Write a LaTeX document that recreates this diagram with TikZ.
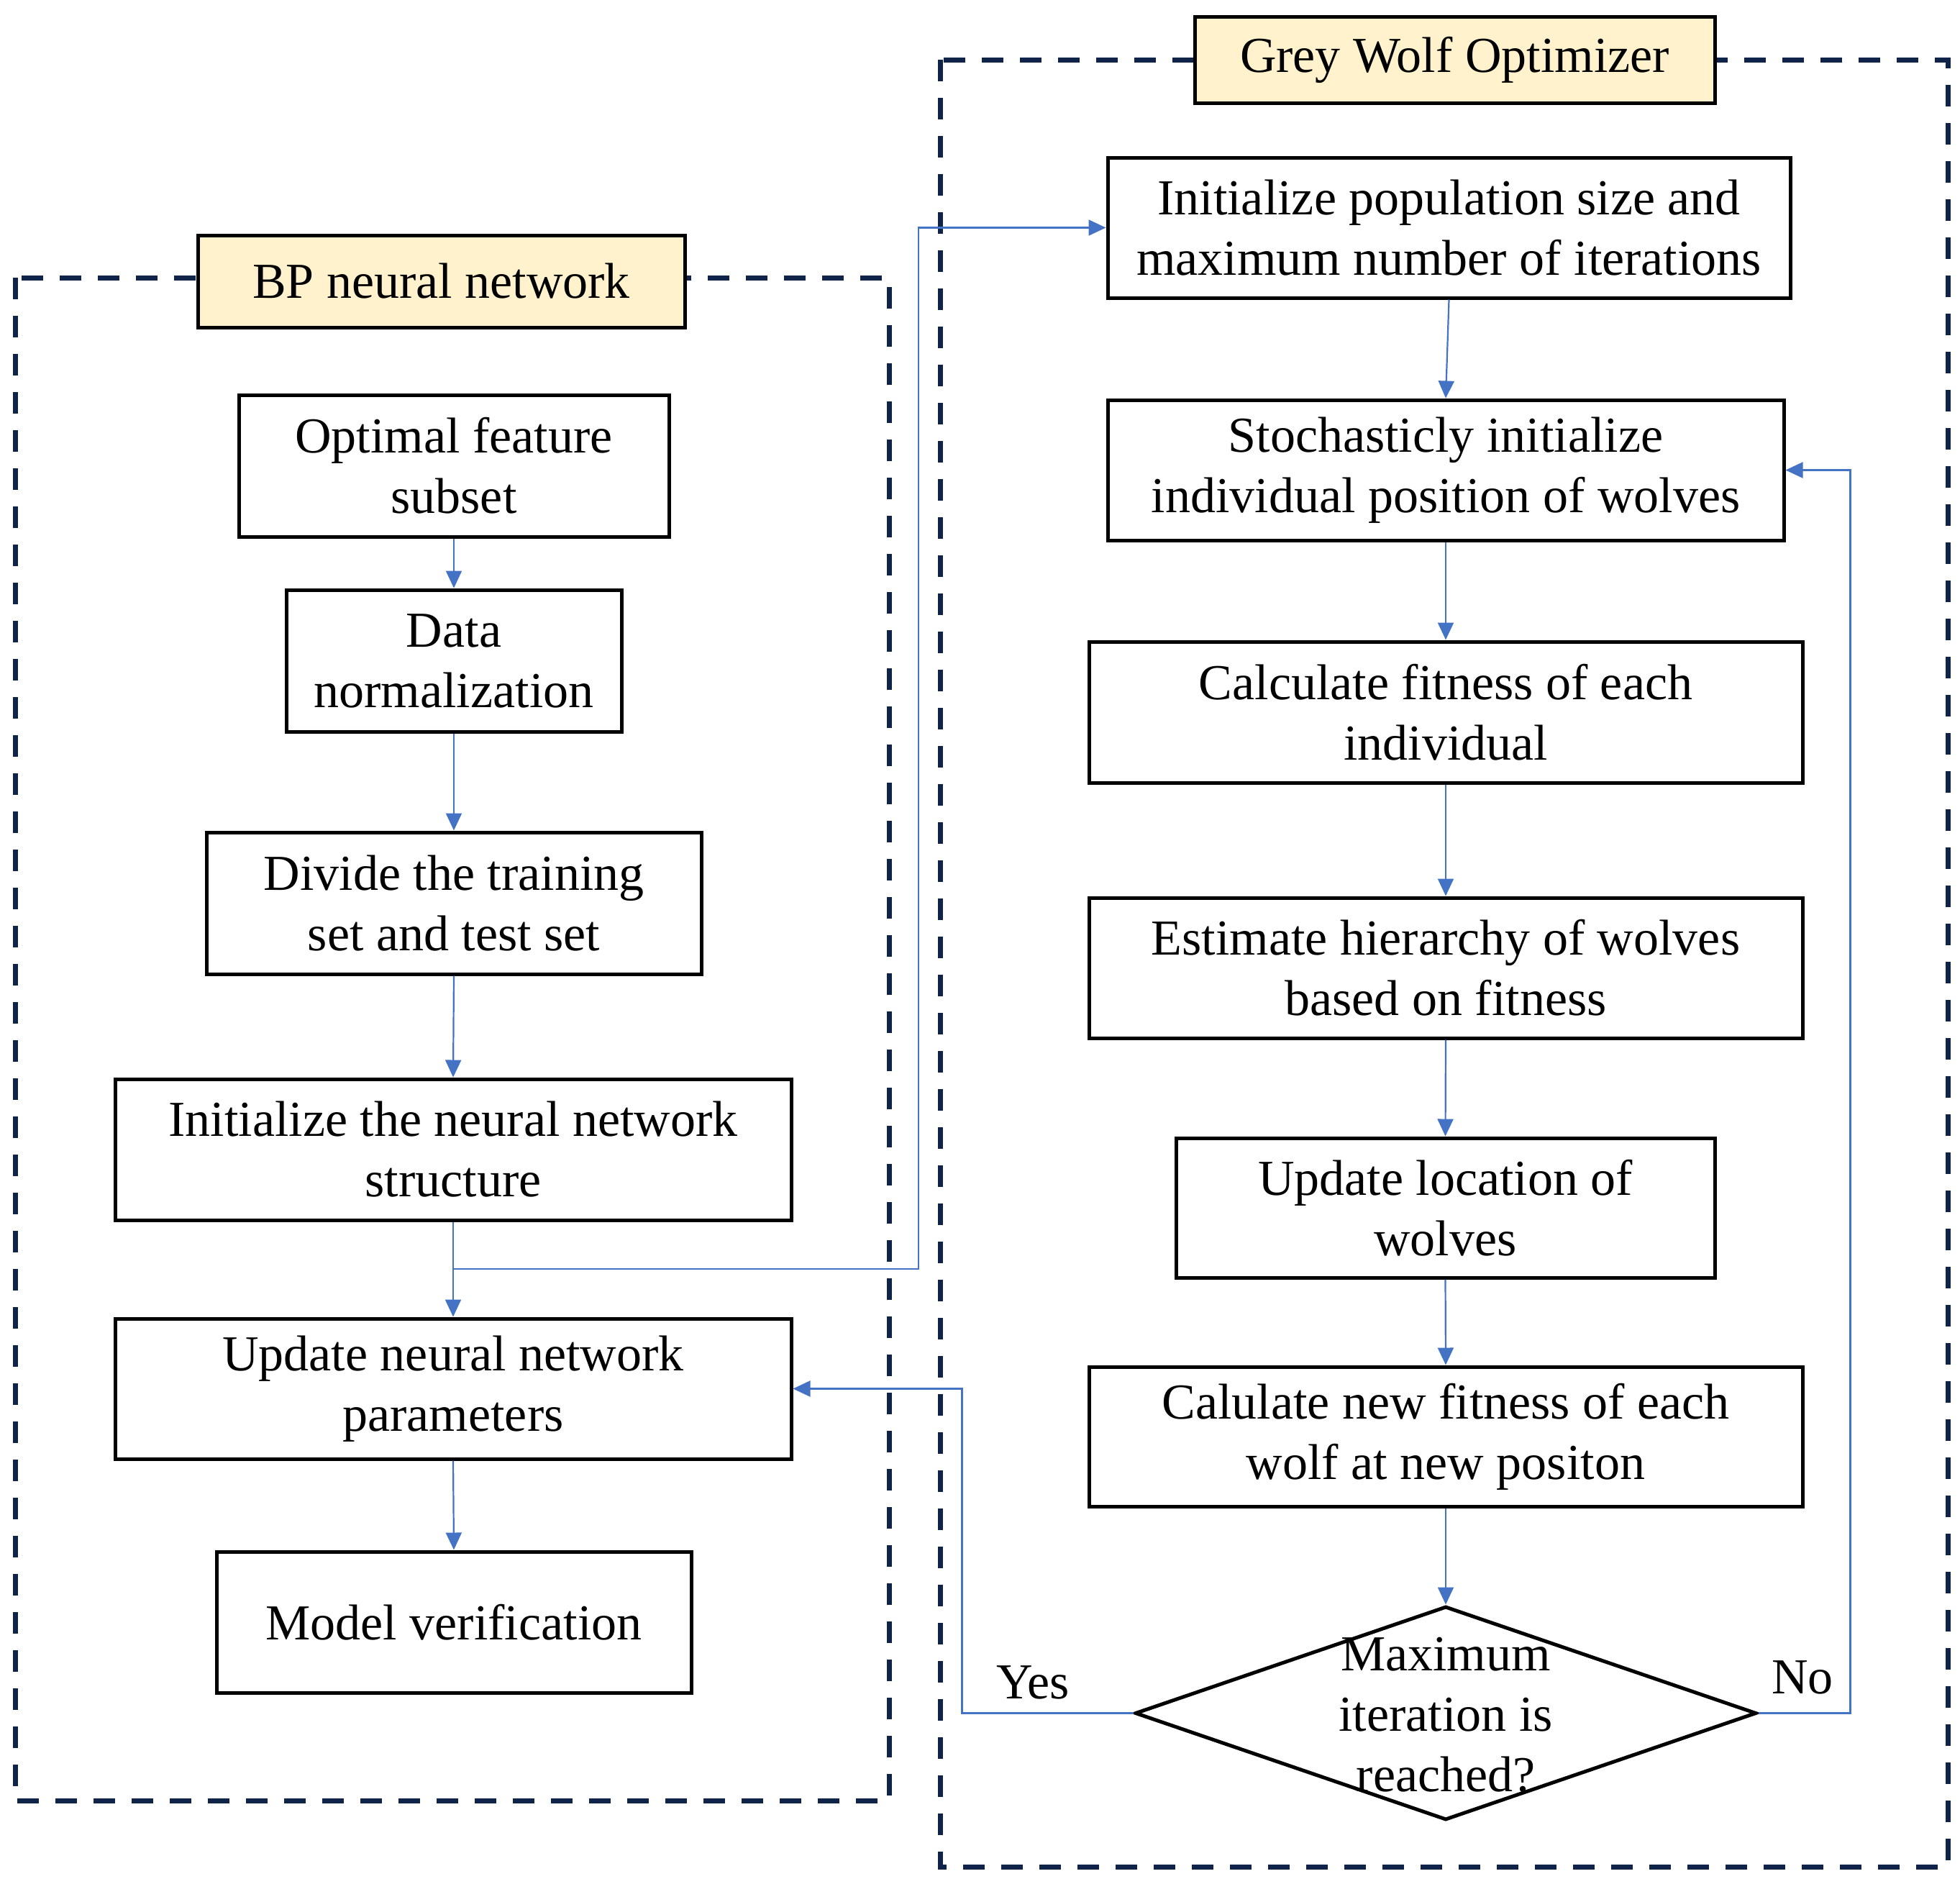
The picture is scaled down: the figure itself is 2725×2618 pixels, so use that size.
\documentclass[tikz,border=0pt]{standalone}
\usepackage{fontspec}
\setmainfont{Liberation Serif}
\usetikzlibrary{arrows.meta,shapes.geometric}
\definecolor{flowblue}{HTML}{4472C4}
\definecolor{navy}{RGB}{16,36,74}
\definecolor{titlefill}{HTML}{FFF2CC}
\begin{document}
\begin{tikzpicture}[x=1pt,y=-1pt]
\tikzset{
 txt/.style={font=\fontsize{70}{84}\selectfont, align=center, inner sep=0pt},
 procbox/.style={txt, draw=black, line width=5pt, fill=white},
 titlebox/.style={procbox, fill=titlefill},
 flow/.style={draw=flowblue, line width=2.2pt},
 arr/.style={flow, -{Triangle[length=24pt,width=22pt]}},
 group/.style={draw=navy, line width=7pt, dash pattern=on 30pt off 23pt},
}
\useasboundingbox (0,0) rectangle (2725,2618);
\fill[white] (0,0) rectangle (2725,2618);

% group frames
\draw[group] (21,386) rectangle (1236,2503);
\draw[group] (1307,83) rectangle (2708,2595);

% titles
\node[titlebox, minimum width=677pt, minimum height=128pt] (bptitle) at (613.5,391) {BP neural network};
\node[titlebox, minimum width=723pt, minimum height=120pt] (gwotitle) at (2022.5,83) {Grey Wolf Optimizer};

% left column
\node[procbox, minimum width=598pt, minimum height=197pt] (opt) at (631,647.5) {Optimal feature\\subset};
\node[procbox, minimum width=466pt, minimum height=197pt] (data) at (631,918.5) {Data\\normalization};
\node[procbox, minimum width=688pt, minimum height=197pt] (divide) at (631,1255.5) {Divide the training\\set and test set};
\node[procbox, minimum width=940pt, minimum height=196pt] (initnn) at (630,1598) {Initialize the neural network\\structure};
\node[procbox, minimum width=940pt, minimum height=195pt] (upd) at (630,1930.5) {Update neural network\\parameters};
\node[procbox, minimum width=660pt, minimum height=196pt] (model) at (631,2255) {Model verification};

% right column
\node[procbox, minimum width=949pt, minimum height=195pt] (initpop) at (2014.5,316.5) {Initialize population size and\\maximum number of iterations};
\node[procbox, minimum width=940pt, minimum height=195pt] (stoch) at (2010,653.5) {Stochasticly initialize\\individual position of wolves};
\node[procbox, minimum width=992pt, minimum height=196pt] (calc) at (2010,990) {Calculate fitness of each\\individual};
\node[procbox, minimum width=992pt, minimum height=195pt] (est) at (2010,1345.5) {Estimate hierarchy of wolves\\based on fitness};
\node[procbox, minimum width=749pt, minimum height=194pt] (updloc) at (2009.5,1679) {Update location of\\wolves};
\node[procbox, minimum width=992pt, minimum height=194pt] (newfit) at (2010,1997) {Calulate new fitness of each\\wolf at new positon};
\node[diamond, draw=black, line width=5pt, inner sep=0pt, minimum width=864pt, minimum height=297pt] (dec) at (2010,2381.5) {};
\node[txt] (dectext) at (2010,2384) {Maximum\\iteration is\\reached?};

% labels
\node[txt] (yes) at (1436,2339) {Yes};
\node[txt] (no) at (2506,2332) {No};

% connectors
\draw[arr] (opt.south) -- (data.north);
\draw[arr] (data.south) -- (divide.north);
\draw[arr] (divide.south) -- (initnn.north);
\draw[arr] (initnn.south) -- (upd.north);
\draw[arr] (upd.south) -- (model.north);
\coordinate (br) at (630,1764);
\draw[arr] (br) -- (1277,1764) |- (initpop.west);

\draw[arr] (initpop.south) -- (stoch.north);
\draw[arr] (stoch.south) -- (calc.north);
\draw[arr] (calc.south) -- (est.north);
\draw[arr] (est.south) -- (updloc.north);
\draw[arr] (updloc.south) -- (newfit.north);
\draw[arr] (newfit.south) -- (dec.north);
\draw[arr] (dec.west) -- ++(-238,0) |- (upd.east);
\draw[arr] (dec.east) -- ++(128,0) |- (stoch.east);
\end{tikzpicture}
\end{document}
